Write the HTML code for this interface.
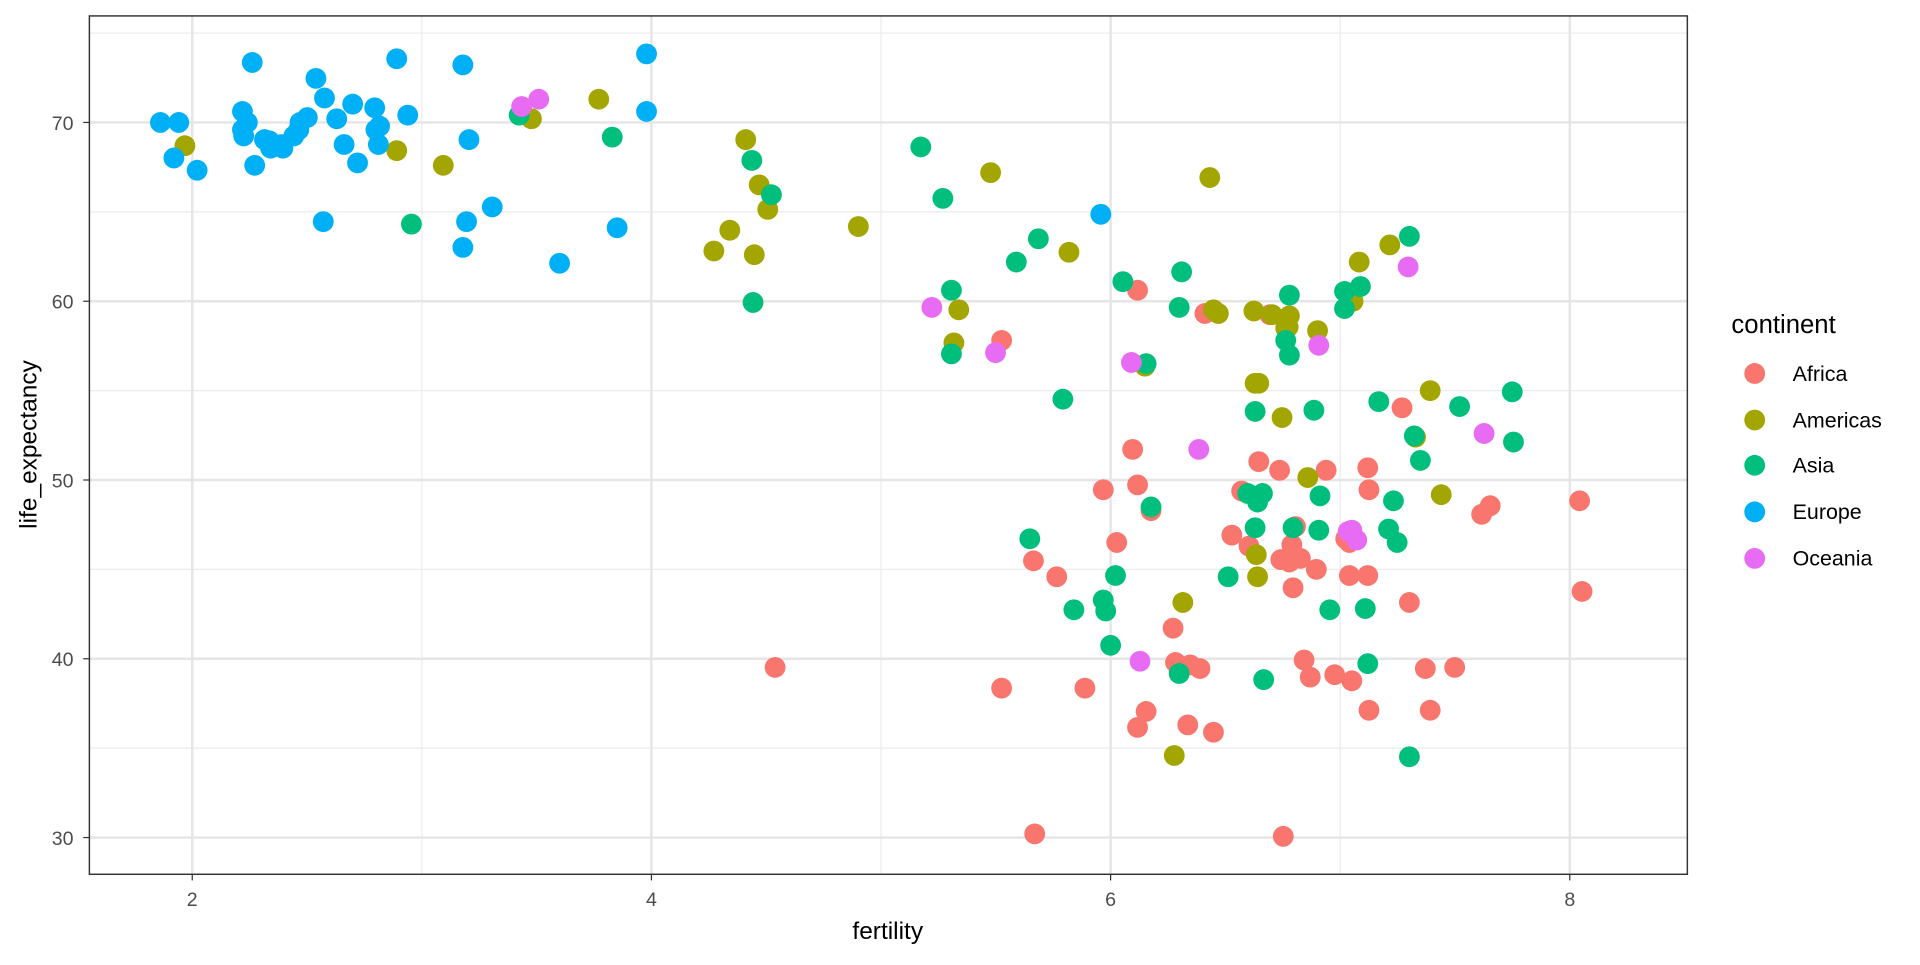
<!DOCTYPE html>
<html><head><meta charset="utf-8"><style>
body{margin:0;background:#fff;overflow:hidden}
svg text{font-family:"Liberation Sans",sans-serif}
</style></head><body>
<svg width="1920" height="960" viewBox="0 0 1568 784" xmlns="http://www.w3.org/2000/svg">
<rect width="1568" height="784" fill="#fff"/>
<g stroke="#ebebeb" stroke-width="1">
<line x1="73" x2="1378" y1="27" y2="27"/><line x1="73" x2="1378" y1="173" y2="173"/><line x1="73" x2="1378" y1="319" y2="319"/><line x1="73" x2="1378" y1="465" y2="465"/><line x1="73" x2="1378" y1="611" y2="611"/>
<line y1="13" y2="714" x1="344.5" x2="344.5"/><line y1="13" y2="714" x1="719.5" x2="719.5"/><line y1="13" y2="714" x1="1094.5" x2="1094.5"/>
</g>
<g stroke="#e5e5e5" stroke-width="2">
<line x1="73" x2="1378" y1="100" y2="100"/><line x1="73" x2="1378" y1="246" y2="246"/><line x1="73" x2="1378" y1="392" y2="392"/><line x1="73" x2="1378" y1="538" y2="538"/><line x1="73" x2="1378" y1="684" y2="684"/>
<line y1="13" y2="714" x1="157" x2="157"/><line y1="13" y2="714" x1="532" x2="532"/><line y1="13" y2="714" x1="907" x2="907"/><line y1="13" y2="714" x1="1282" x2="1282"/>
</g>
<g id="pts"></g>
<rect x="73" y="13" width="1305" height="701" fill="none" stroke="#333" stroke-width="1.2"/>
<g stroke="#333"><line x1="157" x2="157" y1="714" y2="719"/><line x1="532" x2="532" y1="714" y2="719"/><line x1="907" x2="907" y1="714" y2="719"/><line x1="1282" x2="1282" y1="714" y2="719"/>
<line x1="68" x2="73" y1="100" y2="100"/><line x1="68" x2="73" y1="246" y2="246"/><line x1="68" x2="73" y1="392" y2="392"/><line x1="68" x2="73" y1="538" y2="538"/><line x1="68" x2="73" y1="684" y2="684"/></g>
<g fill="#4d4d4d" font-size="16" text-anchor="middle"><text x="157" y="740">2</text><text x="532" y="740">4</text><text x="907" y="740">6</text><text x="1282" y="740">8</text></g>
<g fill="#4d4d4d" font-size="16" text-anchor="end"><text x="60" y="106">70</text><text x="60" y="252">60</text><text x="60" y="398">50</text><text x="60" y="544">40</text><text x="60" y="690">30</text></g>
<text x="725" y="767" font-size="20" text-anchor="middle">fertility</text>
<text transform="translate(30,363) rotate(-90)" font-size="20" text-anchor="middle">life_expectancy</text>
<text x="1414" y="272" font-size="21">continent</text>
<g font-size="17.5">
<circle cx="1433" cy="305" r="8.5" fill="#F8766D"/><text x="1464" y="311">Africa</text>
<circle cx="1433" cy="343" r="8.5" fill="#A3A500"/><text x="1464" y="349">Americas</text>
<circle cx="1433" cy="380" r="8.5" fill="#00BF7D"/><text x="1464" y="386">Asia</text>
<circle cx="1433" cy="418" r="8.5" fill="#00B0F6"/><text x="1464" y="424">Europe</text>
<circle cx="1433" cy="456" r="8.5" fill="#E76BF3"/><text x="1464" y="462">Oceania</text>
</g>
</svg>
<script>
var d={
"#F8766D":[[633,545],[818,278],[929,237],[984,256],[1037,257],[844,458],[818,562],[845,681],[863,471],[886,562],[901,400],[912,443],[925,367],[929,396],[940,417],[936,581],[929,594],[958,513],[960,541],[970,592],[972,543],[980,546],[991,598],[1006,437],[1014,401],[1020,446],[1028,377],[1045,384],[1046,457],[1053,459],[1055,445],[1058,430],[1048,683],[1056,480],[1062,456],[1065,539],[1070,553],[1075,465],[1083,384],[1090,551],[1102,443],[1102,470],[1104,556],[1117,382],[1118,400],[1117,470],[1118,580],[1145,333],[1151,492],[1164,546],[1168,580],[1188,545],[1210,420],[1217,413],[1290,409],[1292,483],[1099,440]],
"#A3A500":[[151,119],[324,123],[362,135],[434,97],[489,81],[609,114],[620,151],[627,171],[616,208],[596,188],[583,205],[701,185],[809,141],[873,206],[783,253],[779,280],[988,145],[991,253],[995,256],[1024,254],[1039,257],[1053,258],[1052,267],[1050,268],[1076,270],[1105,246],[1110,214],[1135,200],[1168,319],[1156,357],[1177,404],[1028,313],[1026,453],[1027,471],[966,492],[1068,390],[1047,341],[1025,313],[959,617],[935,299]],
"#00BF7D":[[424,94],[336,183],[500,112],[614,131],[630,159],[615,247],[752,120],[770,162],[777,237],[777,289],[830,214],[848,195],[868,326],[917,230],[936,297],[940,414],[911,470],[877,498],[901,490],[903,499],[907,527],[841,440],[1025,336],[1053,241],[1053,290],[1073,335],[1019,403],[1031,403],[1077,433],[1078,405],[1056,431],[1086,498],[1111,234],[1098,252],[1151,193],[1126,328],[1155,356],[1160,376],[1138,409],[1141,443],[1134,432],[1115,497],[1117,542],[1151,618],[1192,332],[1235,320],[1236,361],[1027,410],[1025,431],[1003,471],[963,550],[1032,555],[965,222],[963,251],[1050,278],[1098,238]],
"#00B0F6":[[131,100],[146,100],[142,129],[161,139],[206,51],[198,91],[202,100],[199,111],[198,106],[208,135],[220,115],[221,121],[231,121],[240,111],[244,106],[245,100],[258,64],[265,80],[275,97],[281,118],[288,85],[292,133],[306,88],[309,118],[307,106],[310,103],[264,181],[324,48],[333,94],[378,53],[381,181],[383,114],[378,202],[402,169],[457,215],[504,186],[528,44],[528,91],[899,175],[251,96],[216,114],[230,118]],
"#E76BF3":[[426,87],[440,81],[761,251],[813,288],[924,296],[979,367],[931,540],[1101,434],[1108,441],[1104,433],[1150,218],[1212,354],[1077,282]]};
var g=document.getElementById('pts'),s='';
for(var c in d)d[c].forEach(function(p){s+='<circle cx="'+p[0]+'" cy="'+p[1]+'" r="8.5" fill="'+c+'"/>';});
g.innerHTML=s;
</script>
</body></html>
